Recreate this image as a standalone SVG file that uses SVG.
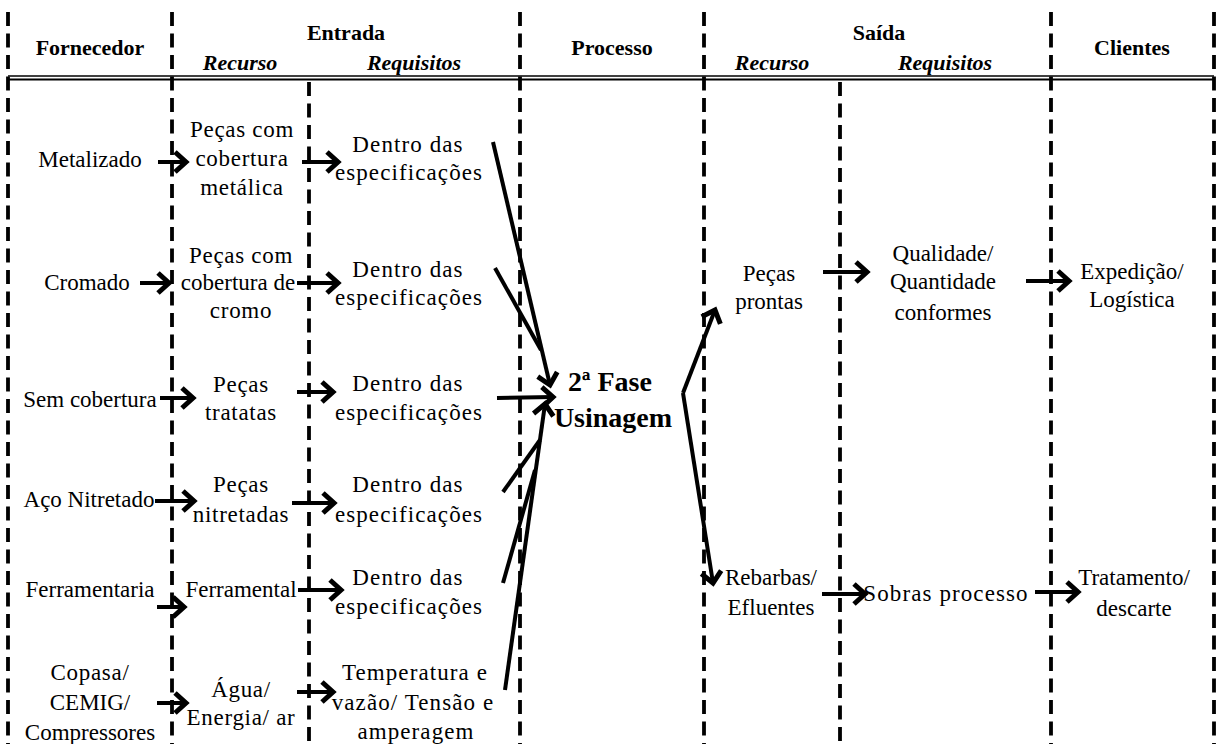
<svg xmlns="http://www.w3.org/2000/svg" width="1219" height="744" viewBox="0 0 1219 744">
<style>
text{font-family:"Liberation Serif","Times New Roman",serif;fill:#000;text-anchor:middle}
.t{font-size:23px}
.w{letter-spacing:1.1px}
.w2{letter-spacing:0.7px}
.h{font-size:22px;font-weight:bold}
.hi{font-size:22px;font-weight:bold;font-style:italic}
.p{font-size:28px;font-weight:bold}
.dash{stroke:#000;stroke-width:3.8;stroke-dasharray:14 7.5;fill:none}
.con{stroke:#000;stroke-width:4;fill:none}
.arr{marker-end:url(#ah)}
</style>
<defs>
<marker id="ah" markerUnits="userSpaceOnUse" viewBox="-18 -16 22 32" refX="0" refY="0" markerWidth="22" markerHeight="32" orient="auto">
<path d="M-11,-10 L0,0 L-11,10" fill="none" stroke="#000" stroke-width="5" stroke-linejoin="miter"/>
</marker>
</defs>
<rect width="1219" height="744" fill="#fff"/>
<g id="grid">
<line class="dash" x1="8" y1="12" x2="8" y2="744"/>
<line class="dash" x1="172" y1="12" x2="172" y2="744"/>
<line class="dash" x1="309" y1="82" x2="309" y2="744"/>
<line class="dash" x1="520" y1="12" x2="520" y2="744"/>
<line class="dash" x1="704" y1="12" x2="704" y2="744"/>
<line class="dash" x1="840" y1="82" x2="840" y2="744"/>
<line class="dash" x1="1051" y1="12" x2="1051" y2="744"/>
<line class="dash" x1="1214" y1="12" x2="1214" y2="744"/>
<line x1="8" y1="76" x2="1214" y2="76" stroke="#000" stroke-width="1.3"/>
<line x1="8" y1="79.5" x2="1214" y2="79.5" stroke="#000" stroke-width="2"/>
</g>
<g id="headers">
<text class="h" x="90" y="55">Fornecedor</text>
<text class="h" x="346" y="40">Entrada</text>
<text class="hi" x="240" y="70">Recurso</text>
<text class="hi" x="414" y="70">Requisitos</text>
<text class="h" x="612" y="55">Processo</text>
<text class="h" x="879" y="40">Saída</text>
<text class="hi" x="772" y="70">Recurso</text>
<text class="hi" x="945" y="70">Requisitos</text>
<text class="h" x="1132" y="55">Clientes</text>
</g>
<g id="n-metalizado"><text class="t" x="90" y="167">Metalizado</text></g>
<g id="n-pecas-metal"><text class="t w2" x="242" y="137">Peças com</text><text class="t w2" x="242" y="166">cobertura</text><text class="t w2" x="242" y="195">metálica</text></g>
<g id="n-req1"><text class="t w" x="408" y="152">Dentro das</text><text class="t w" x="409" y="180">especificações</text></g>
<g id="n-cromado"><text class="t" x="87" y="290">Cromado</text></g>
<g id="n-pecas-cromo"><text class="t w2" x="241" y="263">Peças com</text><text class="t" x="238" y="290">cobertura de</text><text class="t w2" x="241" y="318">cromo</text></g>
<g id="n-req2"><text class="t w" x="408" y="277">Dentro das</text><text class="t w" x="409" y="305">especificações</text></g>
<g id="n-semcob"><text class="t" x="90" y="407">Sem cobertura</text></g>
<g id="n-pecas-trat"><text class="t w2" x="241" y="392">Peças</text><text class="t w2" x="241" y="420">tratatas</text></g>
<g id="n-req3"><text class="t w" x="408" y="391">Dentro das</text><text class="t w" x="409" y="420">especificações</text></g>
<g id="n-aco"><text class="t" x="89" y="507">Aço Nitretado</text></g>
<g id="n-pecas-nitr"><text class="t w2" x="241" y="492">Peças</text><text class="t w2" x="241" y="522">nitretadas</text></g>
<g id="n-req4"><text class="t w" x="408" y="492">Dentro das</text><text class="t w" x="409" y="522">especificações</text></g>
<g id="n-ferramentaria"><text class="t" x="90" y="597">Ferramentaria</text></g>
<g id="n-ferramental"><text class="t" x="241" y="597">Ferramental</text></g>
<g id="n-req5"><text class="t w" x="408" y="585">Dentro das</text><text class="t w" x="409" y="614">especificações</text></g>
<g id="n-copasa"><text class="t w2" x="90" y="680">Copasa/</text><text class="t" x="90" y="710">CEMIG/</text><text class="t" x="90" y="740">Compressores</text></g>
<g id="n-agua"><text class="t w2" x="241" y="697">Água/</text><text class="t w2" x="241" y="725">Energia/ ar</text></g>
<g id="n-req6"><text class="t w" x="415" y="680">Temperatura e</text><text class="t w" x="413" y="710">vazão/ Tensão e</text><text class="t w" x="416" y="739">amperagem</text></g>
<g id="n-processo"><text class="p" x="610" y="391">2ª Fase</text><text class="p" x="613" y="427">Usinagem</text></g>
<g id="n-pecas-prontas"><text class="t" x="769" y="281">Peças</text><text class="t" x="769" y="309">prontas</text></g>
<g id="n-qualidade"><text class="t" x="943" y="261">Qualidade/</text><text class="t" x="943" y="289">Quantidade</text><text class="t" x="943" y="320">conformes</text></g>
<g id="n-expedicao"><text class="t" x="1132" y="279">Expedição/</text><text class="t" x="1132" y="307">Logística</text></g>
<g id="n-rebarbas"><text class="t" x="771" y="585">Rebarbas/</text><text class="t" x="771" y="615">Efluentes</text></g>
<g id="n-sobras"><text class="t w" x="946" y="601">Sobras processo</text></g>
<g id="n-tratamento"><text class="t" x="1134" y="585">Tratamento/</text><text class="t" x="1134" y="616">descarte</text></g>
<g id="connectors">
<line class="con arr" x1="158" y1="162" x2="186" y2="162"/>
<line class="con arr" x1="302" y1="162" x2="338" y2="162"/>
<line class="con arr" x1="140" y1="283" x2="169" y2="283"/>
<line class="con arr" x1="297" y1="283" x2="338" y2="283"/>
<line class="con arr" x1="160" y1="398" x2="193" y2="398"/>
<line class="con arr" x1="297" y1="392" x2="333" y2="392"/>
<line class="con arr" x1="155" y1="501" x2="194" y2="501"/>
<line class="con arr" x1="292" y1="503" x2="334" y2="503"/>
<line class="con arr" x1="157" y1="607" x2="184" y2="607"/>
<line class="con arr" x1="298" y1="590" x2="341" y2="590"/>
<line class="con arr" x1="157" y1="703" x2="186" y2="703"/>
<line class="con arr" x1="297" y1="692" x2="333" y2="692"/>
<line class="con arr" x1="823" y1="272" x2="867" y2="272"/>
<line class="con arr" x1="1026" y1="281" x2="1069" y2="281"/>
<line class="con arr" x1="822" y1="594" x2="865" y2="594"/>
<line class="con arr" x1="1035" y1="592" x2="1078" y2="592"/>
<line class="con arr" x1="493" y1="142" x2="550" y2="385"/>
<line class="con" x1="495" y1="268" x2="541" y2="350"/>
<line class="con arr" x1="497" y1="398" x2="553" y2="397"/>
<line class="con" x1="503" y1="492" x2="540" y2="440"/>
<line class="con" x1="503" y1="583" x2="535" y2="470"/>
<line class="con arr" x1="505" y1="690" x2="545" y2="404"/>
<line class="con arr" x1="683" y1="393" x2="715" y2="310"/>
<line class="con arr" x1="683" y1="393" x2="713" y2="583"/>
</g>
</svg>
